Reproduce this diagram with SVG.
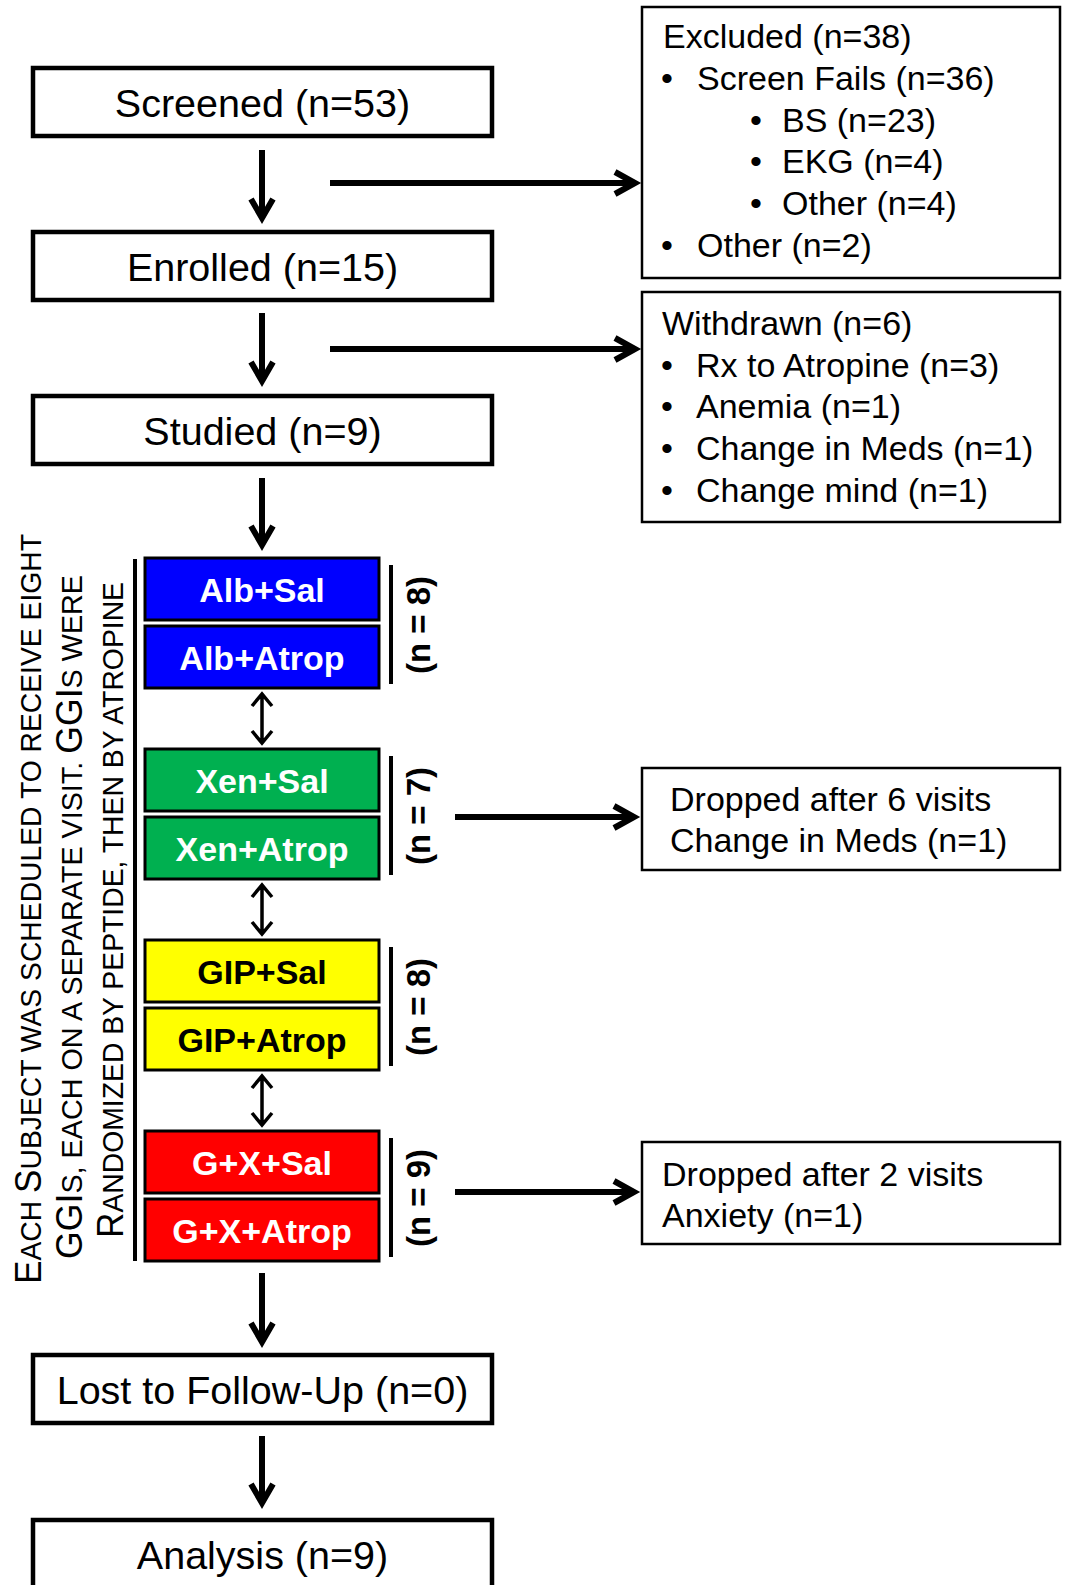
<svg xmlns="http://www.w3.org/2000/svg" width="1068" height="1585" viewBox="0 0 1068 1585">
<style>
text{font-family:"Liberation Sans",Arial,sans-serif;fill:#000}
.main{fill:#fff;stroke:#000;stroke-width:4.5}
.mt{font-size:39.5px;text-anchor:middle}
.side{fill:#fff;stroke:#000;stroke-width:2.5}
.st{font-size:34px}
.arm{fill:#00f;stroke:#000;stroke-width:3}
.grn{fill:#00b050;stroke:#000;stroke-width:3}
.yel{fill:#ffff00;stroke:#000;stroke-width:3}
.red{fill:#ff0000;stroke:#000;stroke-width:3}
.bt{font-size:34px;font-weight:bold;text-anchor:middle;fill:#fff}
.bk{fill:#000}
.nl{font-size:33px;font-weight:bold;text-anchor:middle}
.brk{stroke:#000;stroke-width:4;fill:none}
.rot{font-size:29px}
.big{font-size:36px}
.ar{stroke:#000;stroke-width:6;fill:none;stroke-linejoin:miter}
.da{stroke:#000;stroke-width:3.5;fill:none}
</style>

<g id="connectors">
<path class="ar" d="M262 150V216M251 199L262 218L273 199"/>
<path class="ar" d="M262 313V379M251 362L262 381L273 362"/>
<path class="ar" d="M262 478V543M251 526L262 545L273 526"/>
<path class="ar" d="M262 1273V1340M251 1323L262 1342L273 1323"/>
<path class="ar" d="M262 1436V1501M251 1484L262 1503L273 1484"/>
<path class="ar" d="M330 183H633M615 172L635 183L615 194"/>
<path class="ar" d="M330 349H633M615 338L635 349L615 360"/>
<path class="ar" d="M455 817H632M614 806L634 817L614 828"/>
<path class="ar" d="M455 1192H632M614 1181L634 1192L614 1203"/>
<path class="da" d="M262 696V741M252 706L262 694L272 706M252 731L262 743L272 731"/>
<path class="da" d="M262 887V932M252 897L262 885L272 897M252 922L262 934L272 922"/>
<path class="da" d="M262 1078V1123M252 1088L262 1076L272 1088M252 1113L262 1125L272 1113"/>
<line class="brk" x1="135" y1="559" x2="135" y2="1261"/>
</g>

<g id="screened"><rect class="main" x="33" y="68" width="459" height="68"/><text class="mt" x="262.5" y="117">Screened (n=53)</text></g>
<g id="enrolled"><rect class="main" x="33" y="232" width="459" height="68"/><text class="mt" x="262.5" y="281">Enrolled (n=15)</text></g>
<g id="studied"><rect class="main" x="33" y="396" width="459" height="68"/><text class="mt" x="262.5" y="445">Studied (n=9)</text></g>
<g id="lost"><rect class="main" x="33" y="1355" width="459" height="68"/><text class="mt" x="262.5" y="1404">Lost to Follow-Up (n=0)</text></g>
<g id="analysis"><rect class="main" x="33" y="1520" width="459" height="68"/><text class="mt" x="262.5" y="1569">Analysis (n=9)</text></g>

<g id="excluded"><rect class="side" x="642" y="7" width="418" height="271"/>
<text class="st" x="663" y="48">Excluded (n=38)</text>
<text class="st" x="661" y="90">•</text><text class="st" x="697" y="90">Screen Fails (n=36)</text>
<text class="st" x="750" y="132">•</text><text class="st" x="782" y="132">BS (n=23)</text>
<text class="st" x="750" y="173">•</text><text class="st" x="782" y="173">EKG (n=4)</text>
<text class="st" x="750" y="215">•</text><text class="st" x="782" y="215">Other (n=4)</text>
<text class="st" x="661" y="257">•</text><text class="st" x="697" y="257">Other (n=2)</text>
</g>

<g id="withdrawn"><rect class="side" x="642" y="292" width="418" height="230"/>
<text class="st" x="662" y="335">Withdrawn (n=6)</text>
<text class="st" x="661" y="377">•</text><text class="st" x="696" y="377">Rx to Atropine (n=3)</text>
<text class="st" x="661" y="418">•</text><text class="st" x="696" y="418">Anemia (n=1)</text>
<text class="st" x="661" y="460">•</text><text class="st" x="696" y="460">Change in Meds (n=1)</text>
<text class="st" x="661" y="502">•</text><text class="st" x="696" y="502">Change mind (n=1)</text>
</g>

<g id="dropped6"><rect class="side" x="642" y="768" width="418" height="102"/>
<text class="st" x="670" y="811">Dropped after 6 visits</text>
<text class="st" x="670" y="852">Change in Meds (n=1)</text>
</g>

<g id="dropped2"><rect class="side" x="642" y="1142" width="418" height="102"/>
<text class="st" x="662" y="1186">Dropped after 2 visits</text>
<text class="st" x="662" y="1227">Anxiety (n=1)</text>
</g>

<g id="alb">
<rect class="arm" x="145" y="558" width="234" height="62"/><text class="bt" x="262" y="602">Alb+Sal</text>
<rect class="arm" x="145" y="626" width="234" height="62"/><text class="bt" x="262" y="670">Alb+Atrop</text>
<line class="brk" x1="391" y1="565" x2="391" y2="684"/>
<text class="nl" transform="translate(430,625) rotate(-90)">(n = 8)</text>
</g>

<g id="xen">
<rect class="grn" x="145" y="749" width="234" height="62"/><text class="bt" x="262" y="793">Xen+Sal</text>
<rect class="grn" x="145" y="817" width="234" height="62"/><text class="bt" x="262" y="861">Xen+Atrop</text>
<line class="brk" x1="391" y1="756" x2="391" y2="875"/>
<text class="nl" transform="translate(430,816) rotate(-90)">(n = 7)</text>
</g>

<g id="gip">
<rect class="yel" x="145" y="940" width="234" height="62"/><text class="bt bk" x="262" y="984">GIP+Sal</text>
<rect class="yel" x="145" y="1008" width="234" height="62"/><text class="bt bk" x="262" y="1052">GIP+Atrop</text>
<line class="brk" x1="391" y1="947" x2="391" y2="1066"/>
<text class="nl" transform="translate(430,1007) rotate(-90)">(n = 8)</text>
</g>

<g id="gx">
<rect class="red" x="145" y="1131" width="234" height="62"/><text class="bt" x="262" y="1175">G+X+Sal</text>
<rect class="red" x="145" y="1199" width="234" height="62"/><text class="bt" x="262" y="1243">G+X+Atrop</text>
<line class="brk" x1="391" y1="1138" x2="391" y2="1257"/>
<text class="nl" transform="translate(430,1198) rotate(-90)">(n = 9)</text>
</g>

<g id="note">
<text class="rot" text-anchor="middle" textLength="750" lengthAdjust="spacingAndGlyphs" transform="translate(41,909) rotate(-90)"><tspan class="big">E</tspan>ACH <tspan class="big">S</tspan>UBJECT WAS SCHEDULED TO RECEIVE EIGHT</text>
<text class="rot" text-anchor="middle" textLength="684" lengthAdjust="spacingAndGlyphs" transform="translate(82,917) rotate(-90)"><tspan class="big">GGI</tspan>S, EACH ON A SEPARATE VISIT. <tspan class="big">GGI</tspan>S WERE</text>
<text class="rot" text-anchor="middle" textLength="656" lengthAdjust="spacingAndGlyphs" transform="translate(123,910) rotate(-90)"><tspan class="big">R</tspan>ANDOMIZED BY PEPTIDE, THEN BY ATROPINE</text>
</g>
</svg>
